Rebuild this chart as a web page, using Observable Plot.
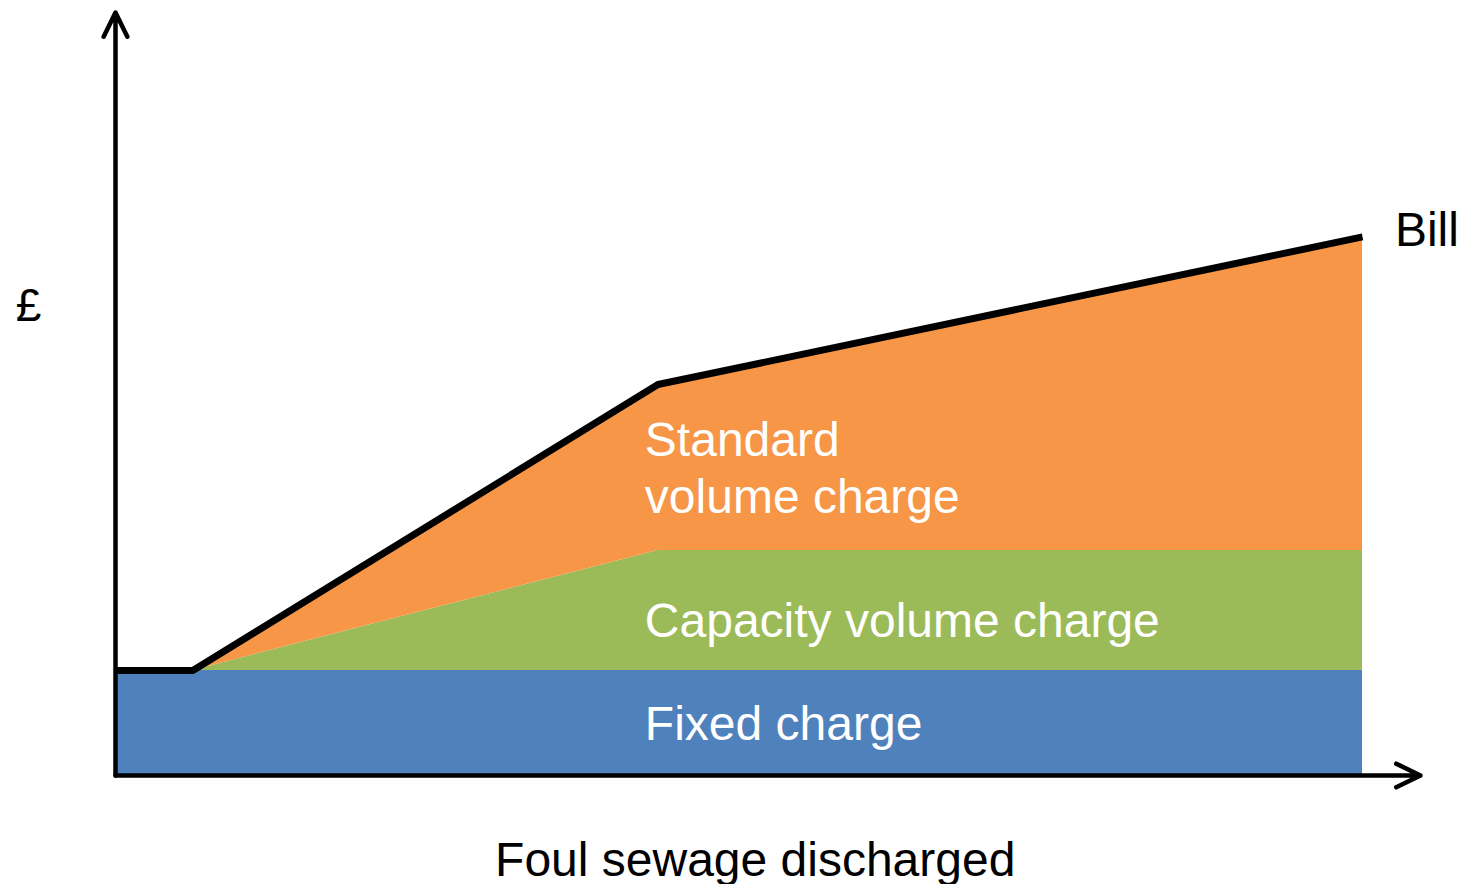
<!DOCTYPE html>
<html>
<head>
<meta charset="utf-8">
<script src="https://cdn.jsdelivr.net/npm/d3@7"></script>
<script src="https://cdn.jsdelivr.net/npm/@observablehq/plot@0.6"></script>
<style>
  html, body { margin: 0; padding: 0; background: #ffffff; }
  #chart svg { display: block; }
</style>
</head>
<body>
<div id="chart"></div>
<script>
// Data (abstract units)
const volume   = [0, 6.2, 43.5, 100];          // foul sewage discharged
const fixed    = [13.76, 13.76, 13.76, 13.76]; // fixed charge
const capacity = [0, 0, 15.73, 15.73];         // capacity volume charge
const standard = [0, 0, 21.75, 41.1];          // standard volume charge
const billColors = { fixed: "#4f81bd", capacity: "#9bbb59", standard: "#f79646" };

const rows = volume.map((v, i) => {
  const f = fixed[i], c = capacity[i], s = standard[i];
  return { v, f, fc: f + c, bill: f + c + s };
});

const FONT = "'Liberation Sans', Arial, Helvetica, sans-serif";
const xMax = 104.65, yMax = 100;
const LX = 42.45;

const chart = Plot.plot({
  width: 1462,
  height: 884,
  marginLeft: 115,
  marginRight: 42,
  marginTop: 12,
  marginBottom: 109,
  style: { fontFamily: FONT, background: "#ffffff" },
  x: { domain: [0, xMax], axis: null },
  y: { domain: [0, yMax], axis: null },
  marks: [
    Plot.areaY(rows, { x: "v", y1: 0, y2: "f", fill: billColors.fixed }),
    Plot.areaY(rows.slice(1), { x: "v", y1: "f", y2: "fc", fill: billColors.capacity }),
    Plot.areaY(rows.slice(1), { x: "v", y1: "fc", y2: "bill", fill: billColors.standard }),
    Plot.arrow([{ x1: 0, y1: 0, x2: 0, y2: yMax }], {
      x1: "x1", y1: "y1", x2: "x2", y2: "y2",
      stroke: "#000", strokeWidth: 4.5, headLength: 9, headAngle: 52
    }),
    Plot.arrow([{ x1: 0, y1: 0, x2: xMax, y2: 0 }], {
      x1: "x1", y1: "y1", x2: "x2", y2: "y2",
      stroke: "#000", strokeWidth: 4.5, headLength: 9, headAngle: 52
    }),
    Plot.line(rows, { x: "v", y: "bill", stroke: "#000", strokeWidth: 7, strokeLinejoin: "miter", strokeLinecap: "butt" }),
    Plot.text(["Standard"], { x: LX, y: 41.9, text: d => d, fill: "#fff", fontSize: 48, textAnchor: "start", lineAnchor: "bottom" }),
    Plot.text(["volume charge"], { x: LX, y: 34.45, text: d => d, fill: "#fff", fontSize: 48, textAnchor: "start", lineAnchor: "bottom" }),
    Plot.text(["Capacity volume charge"], { x: LX, y: 18.1, text: d => d, fill: "#fff", fontSize: 48, textAnchor: "start", lineAnchor: "bottom" }),
    Plot.text(["Fixed charge"], { x: LX, y: 4.7, text: d => d, fill: "#fff", fontSize: 48, textAnchor: "start", lineAnchor: "bottom" }),
    Plot.text(["Bill"], { x: 102.6, y: 69.45, text: d => d, fill: "#000", fontSize: 48, textAnchor: "start", lineAnchor: "bottom" }),
    Plot.text(["£"], { x: -6.98, y: 59.6, text: d => d, fill: "#000", fontSize: 46, textAnchor: "middle", lineAnchor: "bottom" }),
    Plot.text(["Foul sewage discharged"], { x: 51.3, y: 0, dy: 100, text: d => d, fill: "#000", fontSize: 48, textAnchor: "middle", lineAnchor: "bottom" })
  ]
});
document.getElementById("chart").appendChild(chart);
</script>
</body>
</html>
